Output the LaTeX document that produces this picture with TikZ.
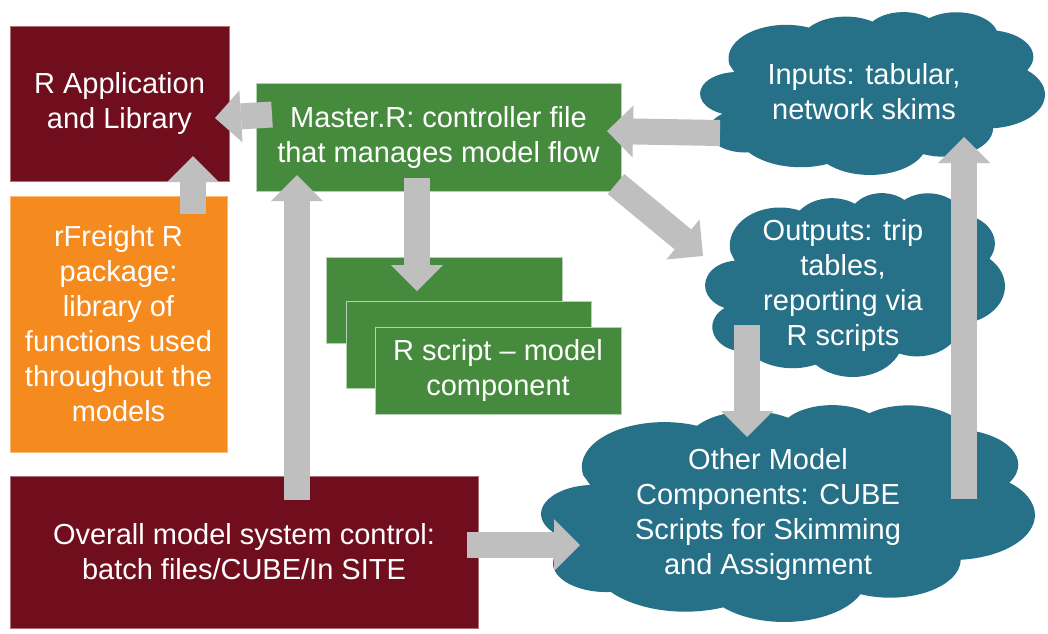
\documentclass[tikz,border=0pt]{standalone}
\usepackage{fontspec}
\setmainfont{Liberation Sans}
\usetikzlibrary{arrows.meta}
\definecolor{cMaroon}{HTML}{700E1E}
\definecolor{cOrange}{HTML}{F58A1F}
\definecolor{cGreen}{HTML}{468A3E}
\definecolor{cTeal}{HTML}{267088}
\definecolor{cGray}{HTML}{BFBFBF}
\newcommand{\pptcloud}[5]{%
 \fill[#5, shift={(#1,#2)}, xscale=#3/404, yscale=#4/445, shift={(-4.5,0)}]
  (39.00,143.70)
  arc[start angle=-190.487, delta angle=123.781, x radius=67.53, y radius=91.90]
  arc[start angle=-144.102, delta angle=89.945, x radius=53.33, y radius=72.67]
  arc[start angle=-145.808, delta angle=99.723, x radius=43.65, y radius=59.45]
  arc[start angle=-130.986, delta angle=117.242, x radius=48.57, y radius=65.95]
  arc[start angle=-78.709, delta angle=109.027, x radius=53.33, y radius=72.73]
  arc[start angle=-46.267, delta angle=130.269, x radius=67.75, y radius=92.20]
  arc[start angle=0.625, delta angle=114.033, x radius=57.85, y radius=78.67]
  arc[start angle=22.452, delta angle=115.173, x radius=67.52, y radius=92.15]
  arc[start angle=66.243, delta angle=75.711, x radius=77.20, y radius=105.43]
  arc[start angle=-274.942, delta angle=146.736, x radius=43.60, y radius=59.18]
  arc[start angle=-246.829, delta angle=152.519, x radius=43.45, y radius=59.45]
  -- cycle;}
\tikzset{
 txt/.style={inner sep=0pt, align=center, text=white, font=\fontsize{29}{35}\selectfont},
 redbox/.style={txt, fill=cMaroon, draw=cMaroon!60!white, line width=0.8pt},
 orangebox/.style={txt, fill=cOrange, draw=cOrange!60!white, line width=0.8pt},
 greenbox/.style={txt, fill=cGreen, draw=cGreen!40!white, line width=1pt},
 blockarrow/.style={draw=cGray, line width=26pt, -{Triangle[width=52pt,length=26pt,line width=0pt]}},
}
\begin{document}
\begin{tikzpicture}[x=1pt,y=-1pt]
\useasboundingbox[fill=white] (0,0) rectangle (1048,633);
% boxes
\node[redbox, minimum width=219pt, minimum height=155pt] (rapp) at (119.5,103.5) {R Application\\and Library};
\node[orangebox, minimum width=217pt, minimum height=256pt] (rfreight) at (118.5,324) {rFreight R\\package:\\library of\\functions used\\throughout the\\models};
\node[greenbox, minimum width=365pt, minimum height=108pt] (master) at (438.5,137) {Master.R: controller file\\that manages model flow};
\node[greenbox, minimum width=236pt, minimum height=86pt] (scriptA) at (444,300) {};
\node[greenbox, minimum width=245pt, minimum height=87pt] (scriptB) at (468.5,344.5) {};
\node[greenbox, minimum width=246pt, minimum height=87pt] (script) at (498,370.5) {R script -- model\\component};
\node[redbox, minimum width=468pt, minimum height=152pt] (overall) at (244,552) {Overall model system control:\\batch files/CUBE/In SITE};
% clouds
\pptcloud{700}{12}{345}{163}{cTeal}
\pptcloud{705}{193}{300}{184}{cTeal}
\pptcloud{541}{405}{494}{217}{cTeal}
\node[txt] (inputs) at (864,92) {Inputs: tabular,\\network skims};
\node[txt] (outputs) at (843,285) {Outputs: trip\\tables,\\reporting via\\R scripts};
\node[txt] (other) at (768,514) {Other Model\\Components: CUBE\\Scripts for Skimming\\and Assignment};
% arrow end points
\coordinate (a1s) at (272,114.5); \coordinate (a1e) at (215,118);
\coordinate (a2s) at (193,214);   \coordinate (a2e) at (193,156);
\coordinate (a3s) at (297,500);   \coordinate (a3e) at (297,175);
\coordinate (a4s) at (417,178);   \coordinate (a4e) at (417,291);
\coordinate (a5s) at (720,133);   \coordinate (a5e) at (607,131);
\coordinate (a6s) at (616,184);   \coordinate (a6e) at (703,256);
\coordinate (a7s) at (747,325);   \coordinate (a7e) at (747,437);
\coordinate (a8s) at (964,499);   \coordinate (a8e) at (964,137);
\coordinate (a9s) at (467,545);   \coordinate (a9e) at (580,545);
\foreach \i in {1,...,9} {\draw[blockarrow] (a\i s) -- (a\i e);}
\end{tikzpicture}
\end{document}
